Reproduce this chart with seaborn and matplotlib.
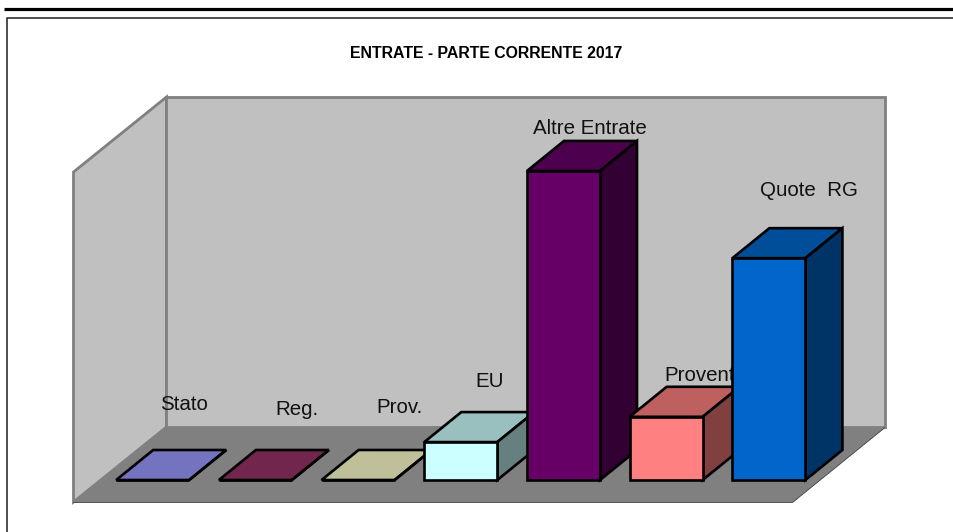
import matplotlib
matplotlib.use("Agg")
import matplotlib.pyplot as plt
from matplotlib.colors import to_rgb
from matplotlib.patches import Polygon
from matplotlib.lines import Line2D
import pandas as pd
import seaborn as sns

# --- data ---
categories = ["Stato", "Reg.", "Prov.", "EU", "Altre Entrate", "Proventi", "Quote  RG"]
shares = [0.0, 0.0, 0.0, 6.0, 48.9, 10.0, 35.1]
colors = ["#9999FF", "#993366", "#FFFFCC", "#CCFFFF", "#660066", "#FF8080", "#0066CC"]
title = "ENTRATE - PARTE CORRENTE 2017"

# --- layout (reference pixels) ---
W, H = 954, 532
X0, X_STEP, BAR_W = 152.7, 102.7, 73.0
Y0, Y_SCALE = 480.0, 6.32
DEPTH_X, DEPTH_Y = 37.0, 30.0
label_offsets = [(31.7, 70), (41.6, 65), (41.4, 67), (28.7, 55), (26.2, 37), (35.4, 36), (40.1, 62)]

sns.set_theme(style="white")
plt.rcParams["font.family"] = ["Liberation Sans", "DejaVu Sans"]

fig = plt.figure(figsize=(W / 100, H / 100), dpi=100, facecolor="white")
ax = fig.add_axes([0, 0, 1, 1])

df = pd.DataFrame({"categoria": categories, "quota": shares})
sns.barplot(data=df, x="categoria", y="quota", hue="categoria", order=categories,
            hue_order=categories, palette=colors, width=BAR_W / X_STEP, dodge=False,
            legend=False, edgecolor="black", linewidth=1.9, saturation=1, ax=ax)

ax.set_xlim((0 - X0) / X_STEP, (W - X0) / X_STEP)
ax.set_ylim((Y0 - H) / Y_SCALE, Y0 / Y_SCALE)
ax.axis("off")


def px(points):
    return [(x / W, 1 - y / H) for x, y in points]


def chrome(points, face, edge, lw, z):
    fig_poly = Polygon(px(points), closed=True, transform=fig.transFigure, facecolor=face,
                       edgecolor=edge, linewidth=lw, zorder=z, joinstyle="miter")
    ax.add_patch(fig_poly)


def rule(points, color, lw, z=1.2):
    xs, ys = zip(*px(points))
    ax.add_line(Line2D(xs, ys, transform=fig.transFigure, color=color, linewidth=lw,
                       zorder=z, solid_capstyle="butt", clip_on=False))


# page rules and chart frame
rule([(4, 8.5), (954, 8.5)], "black", 2.3)
rule([(7, 532), (7, 18), (954, 18)], "#303030", 1.2)

# walls and floor
chrome([(73.5, 502), (73.5, 172), (166.5, 97), (166.5, 427)], "#C0C0C0", "#808080", 2.0, 1)
chrome([(166.5, 97), (885.5, 97), (885.5, 427), (166.5, 427)], "#C0C0C0", "#808080", 2.0, 1)
chrome([(73, 502.5), (792.5, 502.5), (885, 427.5), (166.5, 427.5)], "#808080", "none", 0, 1.1)
rule([(73, 502.5), (792.5, 502.5), (885, 427.5)], "#404040", 0.6)


def shade(color, factor):
    return tuple(c * factor for c in to_rgb(color))


dx = DEPTH_X / X_STEP
dy = DEPTH_Y / Y_SCALE
for i, (bar, color, offset) in enumerate(zip(ax.patches, colors, label_offsets)):
    z = 3 + 2 * i
    left, right = bar.get_x(), bar.get_x() + bar.get_width()
    top = bar.get_height()
    bar.set_zorder(z + 0.5)
    bar.set_joinstyle("miter")
    for pts, factor in (
        ([(left, top), (right, top), (right + dx, top + dy), (left + dx, top + dy)], 0.75),
        ([(right, 0), (right + dx, dy), (right + dx, top + dy), (right, top)], 0.5),
    ):
        ax.add_patch(Polygon(pts, closed=True, facecolor=shade(color, factor), edgecolor="black",
                             linewidth=1.9, zorder=z, joinstyle="miter"))
    ax.annotate(categories[i], xy=(left + bar.get_width() / 2, top), xytext=offset,
                textcoords="offset pixels", ha="center", va="baseline", fontsize=14.8,
                color="#111111", zorder=z - 1)

fig.text(486 / W, 1 - 57.5 / H, title, ha="center", va="baseline", fontsize=11.4,
         fontweight="bold", color="black")

fig.savefig("out.png", dpi=100, facecolor="white")
